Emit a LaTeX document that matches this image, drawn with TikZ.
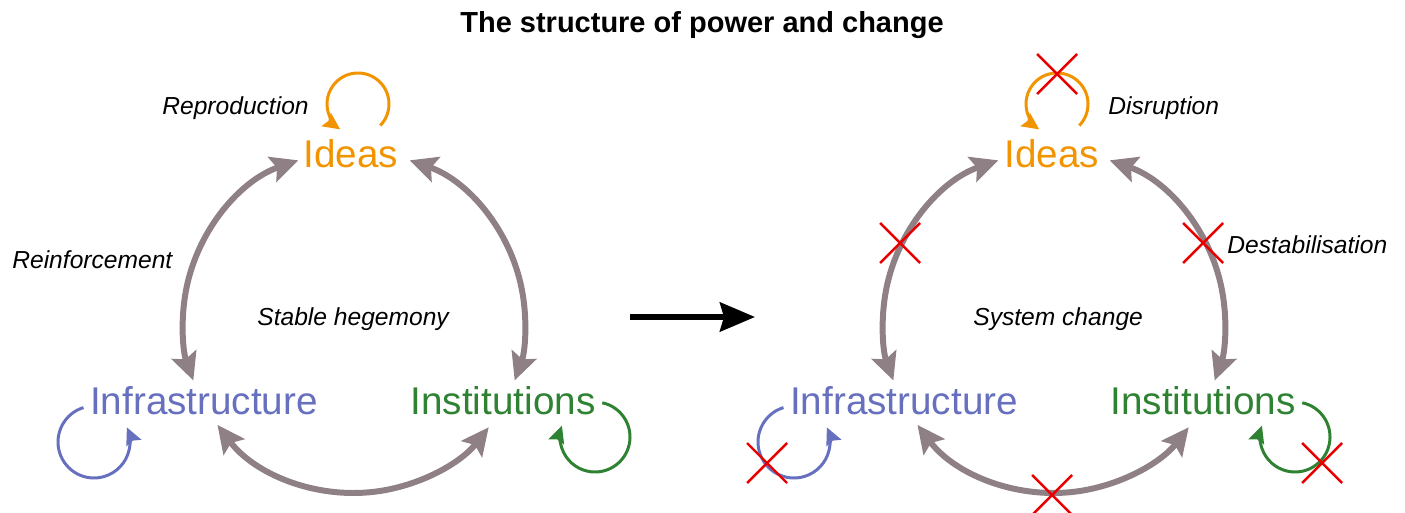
\documentclass[tikz,border=0pt]{standalone}
\usepackage{fontspec}
\setmainfont{Liberation Sans}
\usetikzlibrary{arrows.meta,calc}
\definecolor{arcgray}{RGB}{142,128,133}
\definecolor{ideaorange}{RGB}{242,148,0}
\definecolor{infrablue}{RGB}{102,112,190}
\definecolor{instgreen}{RGB}{46,130,50}
\definecolor{crossred}{RGB}{232,0,0}
\begin{document}
\begin{tikzpicture}[x=0.02cm,y=0.02cm,
  bigarc/.style={draw=arcgray, line width=3.4pt,
    {Stealth[length=0.55cm,width=0.52cm,inset=0.1cm]}-{Stealth[length=0.55cm,width=0.52cm,inset=0.1cm]}},
  selfloop/.style={line width=1.7pt, -{Stealth[length=0.34cm,width=0.32cm,inset=0.05cm]}},
  concept/.style={font=\fontsize{22}{26}\selectfont, inner sep=0pt, anchor=base},
  lbl/.style={font=\fontsize{14}{17}\selectfont\itshape, inner sep=0pt, anchor=base west},
  redx/.style={draw=crossred, line width=1.4pt},
  xmark/.pic={\draw[redx] (-20,-20) -- (20,20) (-20,20) -- (20,-20);}
]
\useasboundingbox (0,0) rectangle (1405,-513);

% title
\node[font=\fontsize{16.5}{20}\selectfont\bfseries, inner sep=0pt, anchor=base] (title) at (702,-33) {The structure of power and change};

% ---------- left diagram ----------
\node[concept, text=ideaorange] (ideasL) at (351,-168) {Ideas};
\node[concept, text=infrablue] (infraL) at (204,-414) {Infrastructure};
\node[concept, text=instgreen] (instL) at (503,-414) {Institutions};

\coordinate (cL) at (354,-322);
\draw[bigarc] ($(cL)+(109:3.42cm)$) arc[start angle=109,end angle=200,radius=3.42cm];
\draw[bigarc] ($(cL)+(71:3.42cm)$) arc[start angle=71,end angle=-20,radius=3.42cm];
\draw[bigarc] ($(cL)+(217:3.42cm)$) arc[start angle=217,end angle=322,radius=3.42cm];

\coordinate (loopIL) at (358,-104);
\coordinate (loopFL) at (94,-442);
\coordinate (loopNL) at (595,-437);
\draw[selfloop, ideaorange] ($(loopIL)+(-44:0.62cm)$) arc[start angle=-44,end angle=235,radius=0.62cm];
\draw[selfloop, infrablue] ($(loopFL)+(107:0.72cm)$) arc[start angle=107,end angle=384,radius=0.72cm];
\draw[selfloop, instgreen] ($(loopNL)+(78:0.70cm)$) arc[start angle=78,end angle=-199,radius=0.70cm];

\node[lbl] (reprod) at (162,-115) {Reproduction};
\node[lbl] (reinf) at (12,-268) {Reinforcement};
\node[lbl] (stable) at (257,-325) {Stable hegemony};

% ---------- middle arrow ----------
\coordinate (arrA) at (630,-317);
\coordinate (arrB) at (755,-317);
\draw[line width=3.2pt, -{Stealth[length=0.7cm,width=0.58cm,inset=0.08cm]}] (arrA) -- (arrB);

% ---------- right diagram ----------
\node[concept, text=ideaorange] (ideasR) at (1052,-168) {Ideas};
\node[concept, text=infrablue] (infraR) at (904,-414) {Infrastructure};
\node[concept, text=instgreen] (instR) at (1203,-414) {Institutions};

\coordinate (cR) at (1054,-322);
\draw[bigarc] ($(cR)+(109:3.42cm)$) arc[start angle=109,end angle=200,radius=3.42cm];
\draw[bigarc] ($(cR)+(71:3.42cm)$) arc[start angle=71,end angle=-20,radius=3.42cm];
\draw[bigarc] ($(cR)+(217:3.42cm)$) arc[start angle=217,end angle=322,radius=3.42cm];

\coordinate (loopIR) at (1057,-104);
\coordinate (loopFR) at (794,-442);
\coordinate (loopNR) at (1295,-437);
\draw[selfloop, ideaorange] ($(loopIR)+(-44:0.62cm)$) arc[start angle=-44,end angle=235,radius=0.62cm];
\draw[selfloop, infrablue] ($(loopFR)+(107:0.72cm)$) arc[start angle=107,end angle=384,radius=0.72cm];
\draw[selfloop, instgreen] ($(loopNR)+(78:0.70cm)$) arc[start angle=78,end angle=-199,radius=0.70cm];

\node[lbl] (disrupt) at (1108,-115) {Disruption};
\node[lbl] (destab) at (1227,-253) {Destabilisation};
\node[lbl] (syschange) at (973,-325) {System change};

% red crosses
\pic at (1057,-74) {xmark};
\pic at (900,-243) {xmark};
\pic at (1203,-243) {xmark};
\pic at (767,-463) {xmark};
\pic at (1052,-495) {xmark};
\pic at (1322,-463) {xmark};
\end{tikzpicture}
\end{document}
